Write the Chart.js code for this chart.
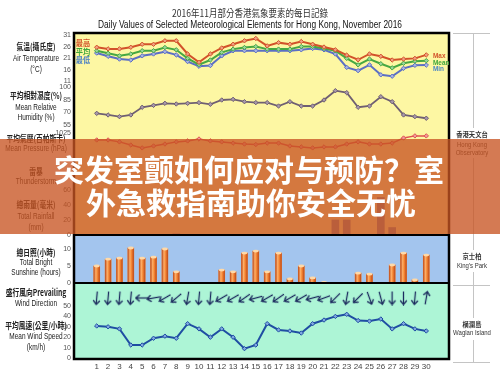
<!DOCTYPE html>
<html>
<head>
<meta charset="utf-8">
<script src="https://cdn.jsdelivr.net/npm/chart.js@4.4.0/dist/chart.umd.min.js"></script>
<style>
  html, body { margin: 0; padding: 0; background: #fff; }
</style>
</head>
<body>
<canvas id="weatherChart" width="500" height="375"></canvas>
<script>
// Daily values, Hong Kong, November 2016
const days = [1, 2, 3, 4, 5, 6, 7, 8, 9, 10, 11, 12, 13, 14, 15, 16, 17, 18, 19, 20, 21, 22, 23, 24, 25, 26, 27, 28, 29, 30];

const tempMax  = [25.7, 25.0, 25.0, 25.7, 27.0, 27.0, 28.5, 28.5, 22.8, 19.2, 22.8, 25.4, 27.0, 28.5, 29.5, 26.3, 27.7, 27.0, 28.2, 27.0, 25.8, 24.6, 22.3, 20.3, 22.8, 21.8, 20.2, 20.6, 20.9, 22.4];
const tempMean = [24.2, 23.1, 22.0, 22.8, 24.2, 24.2, 25.6, 24.6, 20.9, 18.2, 20.2, 23.5, 24.9, 25.6, 26.0, 24.9, 24.9, 24.9, 26.0, 26.0, 25.2, 24.2, 20.9, 18.1, 20.6, 18.6, 16.8, 18.8, 19.7, 19.9];
const tempMin  = [23.2, 21.8, 20.6, 20.2, 22.0, 22.8, 23.8, 22.4, 19.5, 17.5, 17.8, 22.0, 24.2, 24.2, 24.2, 24.2, 24.2, 24.2, 24.6, 25.2, 24.6, 22.8, 17.0, 15.6, 18.1, 13.8, 13.2, 16.6, 17.9, 18.0];

const humidity = [68.8, 66.9, 64.9, 66.9, 76.0, 78.3, 80.7, 79.9, 80.7, 81.5, 79.5, 84.6, 85.4, 82.6, 81.5, 81.5, 77.5, 82.6, 77.5, 77.5, 84.6, 95.6, 93.3, 76.0, 77.5, 88.5, 82.6, 66.9, 64.9, 63.0];
const pressure = [1022.1, 1022.1, 1021.3, 1020.0, 1018.8, 1019.6, 1020.4, 1021.3, 1021.7, 1022.5, 1021.7, 1021.3, 1020.8, 1020.4, 1020.2, 1020.8, 1020.8, 1019.6, 1019.2, 1018.8, 1019.2, 1019.2, 1020.4, 1021.3, 1020.4, 1020.4, 1020.8, 1022.9, 1023.8, 1023.8];
const rainfall = [0, 0, 0, 0, 0, 0, 0, 1.5, 0, 0.5, 0, 0, 0, 0, 0, 0, 0, 0, 0, 0, 0, 20, 20, 0, 0, 50, 10, 0, 0, 0];
const sunshine = [5.0, 7.0, 7.3, 10.3, 7.3, 7.6, 10.0, 3.3, 0, 0, 0, 3.8, 3.3, 8.8, 9.4, 3.3, 8.8, 1.2, 5.0, 1.5, 0.2, 0, 0, 2.9, 2.6, 0, 5.3, 8.8, 0.9, 8.2];
// prevailing wind direction, degrees the wind blows from
const windDirection = [5, 5, 5, 5, 90, 80, 60, 50, 10, 5, 5, 60, 60, 55, 75, 60, 55, 60, 60, 75, 70, 45, 10, 45, 340, 345, 0, 0, 5, 190];
const windSpeed = [30.8, 30.0, 28.0, 12.5, 12.5, 19.0, 21.0, 19.0, 33.0, 28.0, 20.0, 28.0, 20.0, 9.0, 12.5, 33.0, 27.0, 26.0, 24.0, 33.0, 36.5, 40.0, 42.0, 36.0, 35.5, 37.5, 28.0, 33.0, 28.0, 26.0];

const tempTicks = [31, 26, 21, 16, 11];
const humidityTicks = [100, 85, 70, 55];
const pressureTicks = [1025];
const rainTicks = [60, 40, 20, 0];
const sunTicks = [10, 5, 0];
const windTicks = [50, 40, 30, 20, 10, 0];

// layout: chart area runs from y=33 to y=359, each panel is a slice of it
const AREA_TOP = 33, AREA_BOTTOM = 359;
function band(vTop, pTop, vBot, pBot) {
    const s = (vTop - vBot) / (pBot - pTop);
    return { min: vBot - (AREA_BOTTOM - pBot) * s, max: vTop + (pTop - AREA_TOP) * s };
}

function yAxis(range, tickValues) {
    return {
        type: 'linear',
        position: 'left',
        display: tickValues.length > 0,
        min: range.min,
        max: range.max,
        afterBuildTicks: s => { s.ticks = tickValues.map(v => ({ value: v })); },
        afterFit: s => { s.width = 0; },
        grid: { display: false, drawTicks: false },
        border: { display: false },
        ticks: { font: { size: 7 }, color: '#555', padding: 3, callback: v => String(v) }
    };
}

const pts = arr => days.map((d, i) => ({ x: d, y: arr[i] }));

function makeArrow() {
    const c = document.createElement('canvas');
    c.width = 9; c.height = 15;
    const g = c.getContext('2d');
    g.strokeStyle = '#1c2b5e';
    g.lineWidth = 1.3;
    g.beginPath(); g.moveTo(4.5, 14); g.lineTo(4.5, 1.5); g.stroke();
    g.beginPath(); g.moveTo(1.2, 5); g.lineTo(4.5, 1); g.lineTo(7.8, 5); g.stroke();
    return c;
}
const arrowImg = makeArrow();

function drawText(ctx, text, x, y, font, color, sx = 1, align = 'center') {
    ctx.save();
    ctx.translate(x, y);
    ctx.scale(sx, 1);
    ctx.font = font;
    ctx.fillStyle = color;
    ctx.textAlign = align;
    ctx.textBaseline = 'middle';
    ctx.fillText(text, 0, 0);
    ctx.restore();
}

const leftLabels = [
    ['氣溫(攝氏度)', 47, 'zh'], ['Air Temperature', 59, 'en'], ['(°C)', 70, 'en'],
    ['平均相對濕度(%)', 96, 'zh'], ['Mean Relative', 108, 'en'], ['Humidity (%)', 118, 'en'],
    ['平均氣壓(百帕斯卡)', 139, 'zh'], ['Mean Pressure (hPa)', 149, 'en'],
    ['雷暴', 172, 'zh'], ['Thunderstorm', 182, 'en'],
    ['總雨量(毫米)', 205, 'zh'], ['Total Rainfall', 217, 'en'], ['(mm)', 228, 'en'],
    ['總日照(小時)', 253, 'zh'], ['Total Bright', 263, 'en'], ['Sunshine (hours)', 273, 'en'],
    ['盛行風向Prevailing', 293, 'zh'], ['Wind Direction', 304, 'en'],
    ['平均風速(公里/小時)', 326, 'zh'], ['Mean Wind Speed', 337, 'en'], ['(km/h)', 348, 'en']
];
const rightLabels = [
    ['香港天文台', 134, 'zh'], ['Hong Kong', 145, 'en'], ['Observatory', 153, 'en'],
    ['京士柏', 256, 'zh'], ["King's Park", 266, 'en'],
    ['橫瀾島', 324, 'zh'], ['Waglan Island', 333, 'en']
];

const panelPlugin = {
    id: 'panels',
    afterLayout(chart) {
        // the y axes take no room in the layout; give them a label strip left of the plot
        const left = chart.chartArea.left;
        Object.values(chart.scales).forEach(s => {
            if (s.axis === 'y') {
                s.left = left - 40;
                s.right = left;
                s.width = 40;
            }
        });
    },
    beforeDraw(chart) {
        const { ctx, chartArea: a, scales } = chart;
        const rainBase = scales.yRain.getPixelForValue(0);
        const sunBase = scales.ySun.getPixelForValue(0);
        ctx.save();
        ctx.fillStyle = '#fdf7a3';
        ctx.fillRect(a.left, a.top, a.width, rainBase - a.top);
        ctx.fillStyle = '#a3c5ee';
        ctx.fillRect(a.left, rainBase, a.width, sunBase - rainBase);
        ctx.fillStyle = '#adf5d6';
        ctx.fillRect(a.left, sunBase, a.width, a.bottom - sunBase);

        drawText(ctx, '2016年11月部分香港氣象要素的每日記錄', 250, 13, '10px "Noto Sans CJK TC"', '#333', 0.85);
        ctx.font = '10px "Liberation Sans"';
        ctx.fillStyle = '#111';
        ctx.textAlign = 'center';
        ctx.textBaseline = 'middle';
        ctx.fillText('Daily Values of Selected Meteorological Elements for Hong Kong, November 2016', 250, 25, 304);

        leftLabels.forEach(([t, y, k]) => {
            if (k === 'zh') drawText(ctx, t, 36, y, 'bold 9px "Noto Sans CJK TC"', '#222', 0.75);
            else drawText(ctx, t, 36, y, '9px "Liberation Sans"', '#222', 0.72);
        });
        rightLabels.forEach(([t, y, k]) => {
            if (k === 'zh') drawText(ctx, t, 472, y, 'bold 7px "Noto Sans CJK TC"', '#333', 0.9);
            else drawText(ctx, t, 472, y, '8px "Liberation Sans"', '#333', 0.75);
        });

        // bracket lines on the right
        ctx.strokeStyle = '#c4c4c4';
        ctx.lineWidth = 1;
        [[33, 128], [158, 250], [272, 318], [340, 362]].forEach(([y0, y1]) => {
            ctx.beginPath(); ctx.moveTo(473.5, y0); ctx.lineTo(473.5, y1); ctx.stroke();
        });
        [33, 285, 362].forEach(y => {
            ctx.beginPath(); ctx.moveTo(453, y + 0.5); ctx.lineTo(490, y + 0.5); ctx.stroke();
        });
        ctx.restore();
    },
    afterDatasetsDraw(chart) {
        const { ctx, chartArea: a, scales } = chart;
        ctx.save();
        // cylinder look for the sunshine bars
        const meta = chart.getDatasetMeta(chart.data.datasets.findIndex(d => d.label === 'Sunshine'));
        meta.data.forEach(el => {
            const { x, y, base, width } = el;
            if (base - y < 0.5) return;
            const g = ctx.createLinearGradient(x - width / 2, 0, x + width / 2, 0);
            g.addColorStop(0, '#b9471a');
            g.addColorStop(0.35, '#ffb068');
            g.addColorStop(0.65, '#f1802f');
            g.addColorStop(1, '#b9471a');
            ctx.fillStyle = g;
            ctx.fillRect(x - width / 2, y, width, base - y);
            ctx.fillStyle = '#ffd9a8';
            ctx.beginPath();
            ctx.ellipse(x, y, width / 2, 1.4, 0, 0, Math.PI * 2);
            ctx.fill();
        });

        ctx.strokeStyle = '#000';
        ctx.lineWidth = 2;
        [scales.yRain.getPixelForValue(0), scales.ySun.getPixelForValue(0)].forEach(y => {
            ctx.beginPath(); ctx.moveTo(a.left, y); ctx.lineTo(a.right, y); ctx.stroke();
        });
        ctx.lineWidth = 2.5;
        ctx.strokeRect(a.left, a.top, a.width, a.height);

        drawText(ctx, '最高', 83, 43, 'bold 8px "Noto Sans CJK TC"', '#d2522a', 0.9);
        drawText(ctx, '平均', 83, 52, 'bold 8px "Noto Sans CJK TC"', '#3fa63c', 0.9);
        drawText(ctx, '最低', 83, 60, 'bold 8px "Noto Sans CJK TC"', '#4a7fc5', 0.9);
        drawText(ctx, 'Max', 433, 56, 'bold 8px "Liberation Sans"', '#d2522a', 0.8, 'left');
        drawText(ctx, 'Mean', 433, 62.5, 'bold 8px "Liberation Sans"', '#3fa63c', 0.8, 'left');
        drawText(ctx, 'Min', 433, 69, 'bold 8px "Liberation Sans"', '#4a86c5', 0.8, 'left');
        ctx.restore();
    },
    afterDraw(chart) {
        const { ctx } = chart;
        ctx.save();
        ctx.fillStyle = 'rgba(200, 85, 35, 0.78)';
        ctx.fillRect(0, 139, 500, 95);
        drawText(ctx, '突发室颤如何应对与预防？室', 249, 170, 'bold 30px "Noto Sans CJK SC"', '#fff');
        drawText(ctx, '外急救指南助你安全无忧', 251, 203, 'bold 30px "Noto Sans CJK SC"', '#fff');
        ctx.restore();
    }
};

const lineSet = (label, arr, axis, color, fill, width) => ({
    type: 'line',
    label: label,
    data: pts(arr),
    yAxisID: axis,
    borderColor: color,
    borderWidth: width,
    pointStyle: 'rectRot',
    pointRadius: 2.2,
    pointBackgroundColor: fill,
    pointBorderColor: color,
    pointBorderWidth: 1,
    tension: 0
});

Chart.defaults.font.family = '"Liberation Sans", Arial, sans-serif';

new Chart(document.getElementById('weatherChart'), {
    data: {
        datasets: [
            lineSet('Max', tempMax, 'yTemp', '#d2522a', '#f0a080', 2),
            lineSet('Mean', tempMean, 'yTemp', '#46a842', '#9ad49a', 2),
            lineSet('Min', tempMin, 'yTemp', '#5b6fc4', '#a8b2e0', 2),
            lineSet('Humidity', humidity, 'yHum', '#6f5f72', '#a898aa', 1.8),
            lineSet('Pressure', pressure, 'yPres', '#e05252', '#f09a9a', 1.5),
            lineSet('Wind Speed', windSpeed, 'yWind', '#1f4ea3', '#7fa8e0', 2),
            {
                type: 'scatter',
                label: 'Wind Direction',
                data: days.map(d => ({ x: d, y: 0 })),
                yAxisID: 'yDir',
                pointStyle: arrowImg,
                pointRotation: ctx => windDirection[ctx.dataIndex] + 180
            },
            {
                type: 'bar',
                label: 'Rainfall',
                data: pts(rainfall),
                yAxisID: 'yRain',
                grouped: false,
                barThickness: 7,
                backgroundColor: '#8a8090',
                borderWidth: 0
            },
            {
                type: 'bar',
                label: 'Sunshine',
                data: pts(sunshine),
                yAxisID: 'ySun',
                grouped: false,
                barThickness: 6,
                backgroundColor: '#ef7b2a',
                borderWidth: 0
            }
        ]
    },
    options: {
        responsive: false,
        animation: false,
        devicePixelRatio: 1,
        layout: { padding: { left: 74, top: AREA_TOP, right: 51, bottom: 2 } },
        plugins: { legend: { display: false }, tooltip: { enabled: false } },
        scales: {
            x: {
                type: 'linear',
                position: 'bottom',
                offset: false,
                min: -1,
                max: 32,
                grid: { display: false, drawTicks: false, offset: false },
                border: { display: false },
                afterFit: s => { s.height = 14; },
                ticks: {
                    stepSize: 1,
                    autoSkip: false,
                    maxRotation: 0,
                    padding: 3,
                    font: { size: 8 },
                    color: '#444',
                    callback: v => (v >= 1 && v <= 30 ? String(v) : '')
                }
            },
            yTemp: yAxis(band(31, 35, 11, 81.3), tempTicks),
            yHum: yAxis(band(100, 87, 55, 125), humidityTicks),
            yPres: yAxis(band(1025, 133, 1015, 157), pressureTicks),
            yRain: yAxis(band(60, 190, 0, 235), rainTicks),
            ySun: yAxis(band(10, 249, 0, 283), sunTicks),
            yDir: yAxis(band(1, 297, 0, 298), []),
            yWind: yAxis(band(50, 306, 0, 358), windTicks)
        }
    },
    plugins: [panelPlugin]
});
</script>
</body>
</html>
